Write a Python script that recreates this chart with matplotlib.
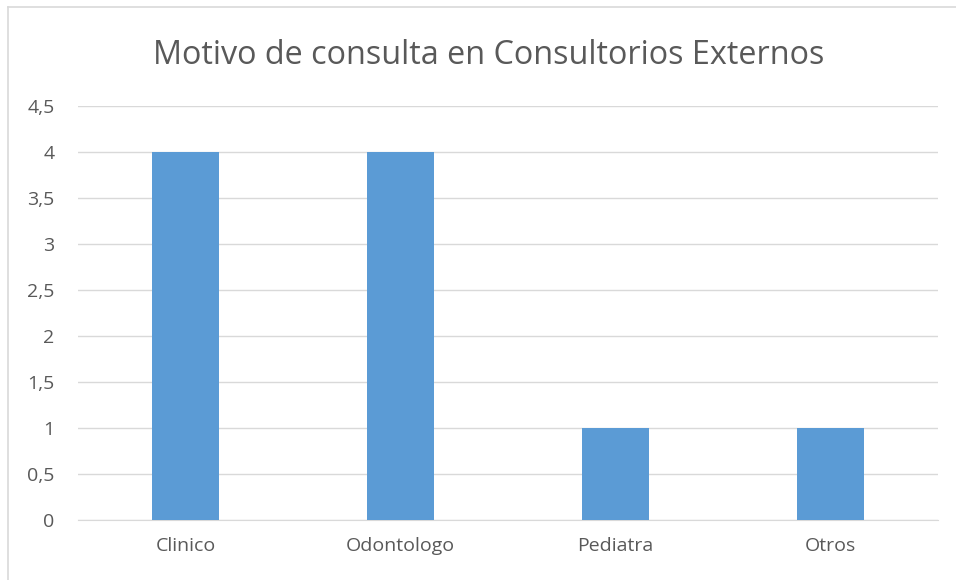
import matplotlib.pyplot as plt
import numpy as np

categorias = ['Clinico', 'Odontologo', 'Pediatra', 'Otros']
valores = [4, 4, 1, 1]
ticks_y = [0, 0.5, 1, 1.5, 2, 2.5, 3, 3.5, 4, 4.5]
etiquetas_y = ['0', '0,5', '1', '1,5', '2', '2,5', '3', '3,5', '4', '4,5']

plt.rcParams['font.family'] = ['Open Sans', 'DejaVu Sans']

fig = plt.figure(figsize=(9.56, 5.80), dpi=100)
ax = fig.add_axes([0.0816, 0.1026, 0.8996, 0.7155])

x = np.arange(len(categorias))
ax.bar(x, valores, width=0.31, color='#5b9bd5', zorder=3)

ax.set_xlim(-0.5, len(categorias) - 0.5)
ax.set_ylim(0, 4.5)
ax.set_yticks(ticks_y)
ax.set_yticklabels(etiquetas_y)
ax.set_xticks(x)
ax.set_xticklabels(categorias)

ax.grid(axis='y', color='#d9d9d9', linewidth=1, zorder=0)
for s in ['top', 'right', 'left']:
    ax.spines[s].set_visible(False)
ax.spines['bottom'].set_color('#d9d9d9')
ax.tick_params(axis='both', length=0, colors='#595959', labelsize=14)
ax.tick_params(axis='x', pad=12)
ax.tick_params(axis='y', pad=17)

fig.text(0.511, 0.904, 'Motivo de consulta en Consultorios Externos',
         ha='center', va='center', fontsize=23.3, color='#595959')

# borde del grafico (solo arriba e izquierda, el resto queda recortado)
fig.add_artist(plt.Line2D([8 / 956, 1], [1 - 7 / 580, 1 - 7 / 580],
                          transform=fig.transFigure, color='#d9d9d9', linewidth=1.2))
fig.add_artist(plt.Line2D([8 / 956, 8 / 956], [0, 1 - 7 / 580],
                          transform=fig.transFigure, color='#d9d9d9', linewidth=1.2))

fig.savefig('out.png', dpi=100)
